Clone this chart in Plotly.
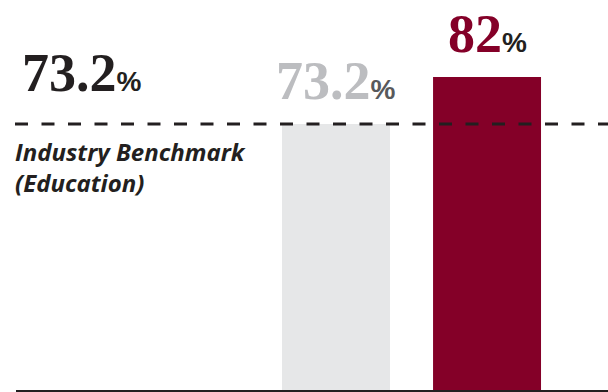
import plotly.graph_objects as go

categories = ["Industry Benchmark", "Institution"]
values = [73.2, 82]
labels = ["73.2", "82"]
benchmark = 73.2
benchmark_label = "Industry Benchmark<br>(Education)"

bar_colors = ["#e6e7e8", "#840028"]
num_colors = ["#bcbdc0", "#840028"]
pct_colors = ["#58595b", "#231f20"]

W, H = 608, 392
ymin, ymax = 23.4, 96.42

fig = go.Figure()
fig.add_trace(go.Bar(
    x=categories, y=values, marker=dict(color=bar_colors, line=dict(width=0)),
    width=0.715, hoverinfo="skip",
))

serif = "Liberation Serif"
pct_span = "<span style='font-family:Liberation Sans;font-size:28px;fill:{c}'>%</span>"

for cat, v, lab, nc, pc in zip(categories, values, labels, num_colors, pct_colors):
    fig.add_annotation(
        x=cat, y=v, xref="x", yref="y", xanchor="center", yanchor="bottom",
        text=lab + pct_span.format(c=pc), showarrow=False, yshift=11,
        font=dict(family=serif, size=54, color=nc, weight="bold"),
    )

fig.add_annotation(
    x=20 / W, y=benchmark, xref="paper", yref="y", xanchor="left", yanchor="bottom",
    text=f"{benchmark:.1f}" + pct_span.format(c="#231f20"), showarrow=False, yshift=19,
    font=dict(family=serif, size=54, color="#231f20", weight="bold"),
)
fig.add_annotation(
    x=13 / W, y=benchmark, xref="paper", yref="y", xanchor="left", yanchor="top",
    text=benchmark_label, showarrow=False, yshift=-9, align="left",
    font=dict(family="Open Sans", size=24, color="#231f20", weight=700, style="italic"),
)

fig.add_shape(type="line", xref="paper", yref="y", x0=15 / W, x1=1, y0=benchmark, y1=benchmark,
              line=dict(color="#231f20", width=3, dash="13px,13.5px"))
fig.add_shape(type="line", xref="paper", yref="paper", x0=16 / W, x1=1, y0=-1 / 390, y1=-1 / 390,
              line=dict(color="#231f20", width=2))

fig.update_layout(
    width=W, height=H, margin=dict(l=0, r=0, t=0, b=2),
    paper_bgcolor="white", plot_bgcolor="white", showlegend=False,
    xaxis=dict(range=[-2.225, 1.801], visible=False),
    yaxis=dict(range=[ymin, ymax], visible=False),
)
fig.write_html("out.html", config={"displayModeBar": False})
